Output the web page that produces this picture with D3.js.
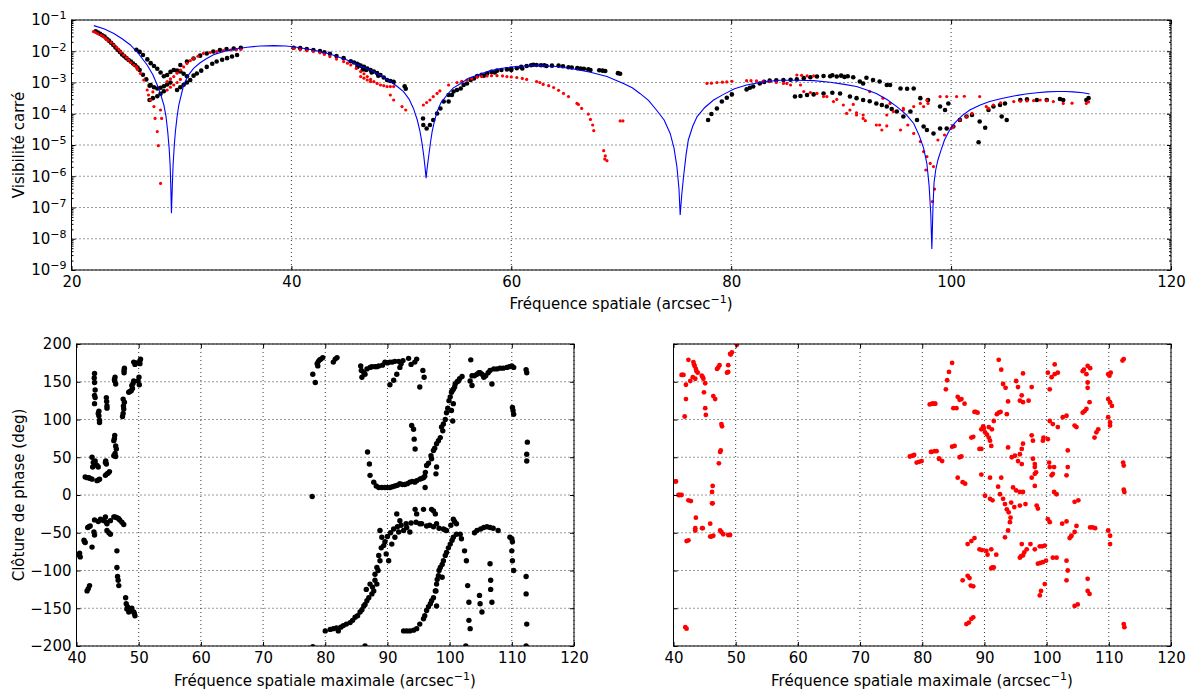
<!DOCTYPE html>
<html><head><meta charset="utf-8">
<script src="https://cdn.jsdelivr.net/npm/d3@7"></script>
<style>body{margin:0;background:#fff;} svg text{font-family:"DejaVu Sans",sans-serif;}</style>
</head><body><svg id="c" width="1195" height="691"></svg>
<script>
// ---------- tick values ----------
const topXTicks = [20, 40, 60, 80, 100, 120];
const topYTicks = [1e-9, 1e-8, 1e-7, 1e-6, 1e-5, 1e-4, 1e-3, 1e-2, 1e-1];
const phaseXTicks = [40, 50, 60, 70, 80, 90, 100, 110, 120];
const phaseYTicks = [-200, -150, -100, -50, 0, 50, 100, 150, 200];

// ---------- top panel data: [spatial frequency, log10(V²)] ----------
const v2Black = [
[22.2,-1.36],[22.6,-1.44],[23.0,-1.53],[23.4,-1.66],[23.8,-1.8],[24.2,-1.95],[24.6,-2.1],[25.0,-2.22],[25.4,-2.33],[25.8,-2.45],[26.2,-2.6],[26.5,-2.75],[26.8,-2.9],[27.1,-3.1],
[22.4,-1.40],[22.8,-1.49],[23.2,-1.6],[23.6,-1.73],[24.0,-1.88],[24.4,-2.02],[24.8,-2.16],[25.2,-2.28],[25.6,-2.39],[26.0,-2.52],
[25.9,-1.95],[26.2,-2.02],[26.5,-2.12],[26.9,-2.26],[27.2,-2.38],[27.5,-2.47],[27.8,-2.56],[28.1,-2.68],[28.4,-2.8],
[27.2,-3.08],[27.5,-3.15],[27.8,-3.19],[28.1,-3.17],[28.4,-3.12],[28.7,-3.06],[29.0,-3.0],
[27.1,-3.56],[27.4,-3.5],[27.8,-3.44],[28.1,-3.36],[28.4,-3.28],
[29.6,-3.24],[29.9,-3.15],[30.2,-3.07],[30.5,-3.0],[30.8,-2.92],
[28.7,-2.76],[29.0,-2.66],[29.3,-2.6],[29.6,-2.62],[29.9,-2.65],[30.2,-2.72],[30.5,-2.8],
[31.1,-2.78],[31.4,-2.71],[31.8,-2.62],[32.3,-2.5],[32.8,-2.4],[33.2,-2.33],[33.7,-2.27],[34.15,-2.22],[34.6,-2.17],[35.06,-2.12],
[29.9,-2.44],[30.5,-2.33],[31.1,-2.23],[31.7,-2.14],[32.3,-2.07],[32.9,-2.01],[33.5,-1.96],[34.1,-1.93],[34.75,-1.91],[35.4,-1.89],
[40.2,-1.89],[40.8,-1.9],[41.4,-1.93],[42.0,-1.96],[42.6,-1.99],[43.0,-2.03],[43.5,-2.08],[44.1,-2.15],[44.75,-2.22],[45.4,-2.32],[45.97,-2.4],[46.3,-2.46],[46.6,-2.5],[46.9,-2.55],[47.2,-2.6],[47.5,-2.65],[47.8,-2.7],[48.1,-2.76],[48.4,-2.84],[48.7,-2.92],[49.0,-2.95],[49.3,-2.98],[50.3,-3.12],[50.4,-3.2],[46.0,-2.5],[46.5,-2.58],
[45.7,-2.36],[46.1,-2.43],[46.8,-2.6],[47.3,-2.68],[47.9,-2.78],
[51.97,-4.15],[52.0,-4.36],[52.3,-4.47],[52.6,-4.36],[52.9,-4.2],[53.25,-3.99],[53.55,-3.83],[53.85,-3.61],[54.3,-3.4],[54.75,-3.29],[55.4,-3.19],[55.97,-3.03],[56.6,-2.87],
[54.3,-3.61],[54.6,-3.4],[55.06,-3.24],[55.66,-3.08],[56.3,-2.92],[56.9,-2.79],[57.3,-2.75],[57.8,-2.71],[58.2,-2.66],[58.7,-2.62],[59.1,-2.6],[59.6,-2.58],[60.0,-2.56],[60.5,-2.54],[60.9,-2.5],[61.4,-2.47],[61.8,-2.45],[62.3,-2.44],[62.7,-2.45],[63.2,-2.47],[63.7,-2.46],[64.3,-2.46],[64.7,-2.48],[65.2,-2.51],[66.0,-2.54],[66.3,-2.55],[67.0,-2.58],[67.2,-2.6],[68.3,-2.62],[68.55,-2.63],[69.7,-2.7],[69.9,-2.72],
[57.5,-2.78],[58.5,-2.68],[60.0,-2.6],[61.0,-2.55],[62.0,-2.43],[63.0,-2.45],[65.5,-2.52],[66.6,-2.56],[68.0,-2.61],
[77.9,-4.2],[78.2,-4.01],[78.7,-3.83],[79.15,-3.61],[79.6,-3.49],[80.06,-3.38],
[81.4,-3.22],[81.7,-3.17],[82.0,-3.13],[82.6,-3.03],[83.0,-2.98],[83.5,-2.94],[84.1,-2.93],[84.75,-2.92],[85.4,-2.91],[85.97,-2.9],[86.6,-2.86],[87.2,-2.83],[87.8,-2.81],[88.4,-2.79],[89.0,-2.8],[89.6,-2.81],[90.3,-2.82],[91.1,-2.83],[91.7,-2.97],[92.0,-3.03],[92.9,-2.92],[93.5,-2.97],[94.15,-3.08],[94.45,-3.08],[95.4,-3.19],[96.0,-3.2],[96.6,-3.19],[97.2,-3.5],[97.9,-3.56],
[89.2,-2.77],[90.0,-2.78],[90.6,-2.8],[92.3,-2.85],
[85.8,-3.45],[86.3,-3.43],[86.9,-3.4],[87.5,-3.38],[88.4,-3.35],[89.2,-3.33],[89.9,-3.35],[90.8,-3.45],[91.4,-3.5],[92.0,-3.56],[92.6,-3.6],[93.2,-3.67],[93.7,-3.72],[94.15,-3.77],[94.6,-3.85],[95.06,-3.93],[95.66,-4.09],[96.3,-3.93],[96.9,-4.2],[97.5,-4.41],[97.8,-4.52],
[98.4,-4.63],[99.0,-4.47],[99.6,-4.47],[100.2,-4.41],[100.8,-4.2],[101.4,-4.09],[101.9,-4.04],[99.0,-3.77],[99.45,-3.88],[99.75,-3.67],
[102.6,-4.25],[103.1,-4.45],[102.5,-4.91],[103.4,-3.88],[103.85,-3.77],[104.45,-3.72],[104.9,-3.67],[104.6,-4.09],[105.06,-4.2],[106.3,-3.56],[106.9,-3.54],[107.8,-3.56],[108.7,-3.56],[109.9,-3.53],[110.2,-3.56],[112.3,-3.56],[112.5,-3.5]
];
const v2Red = [
[22.0,-1.37],[22.4,-1.44],[22.9,-1.53],[23.3,-1.65],[23.85,-1.8],[24.3,-1.95],[24.75,-2.12],[25.2,-2.28],[25.67,-2.44],[26.0,-2.58],[26.27,-2.71],[26.57,-2.92],[26.88,-3.24],[27.2,-3.56],[27.5,-3.77],[27.6,-4.15],[27.8,-4.57],[27.9,-5.02],[28.1,-6.23],[28.1,-3.88],[28.2,-4.15],[27.4,-3.3],[27.0,-3.4],
[22.2,-1.4],[22.7,-1.48],[23.1,-1.59],[23.6,-1.72],[24.1,-1.88],[24.5,-2.03],[25.0,-2.2],[25.4,-2.36],[25.9,-2.5],
[28.7,-2.97],[29.0,-2.88],[29.3,-2.81],[29.6,-2.7],[29.9,-2.6],[30.2,-2.5],[30.5,-2.39],[30.8,-2.3],[31.1,-2.23],[31.5,-2.16],[32.0,-2.07],[32.6,-2.04],[33.2,-2.01],[33.8,-1.98],[34.45,-1.96],[35.0,-1.95],[35.4,-1.94],
[28.7,-3.24],[29.0,-3.15],[29.3,-3.08],[29.6,-3.0],[29.9,-2.9],
[40.2,-1.91],[40.8,-1.95],[41.4,-1.98],[42.0,-2.01],[42.6,-2.05],[43.0,-2.1],[43.5,-2.17],[44.1,-2.25],[44.75,-2.33],[45.1,-2.38],[45.4,-2.44],[45.9,-2.55],[46.3,-2.65],[46.6,-2.72],[46.9,-2.81],[47.2,-2.9],[47.5,-2.97],[47.8,-3.03],[48.1,-3.08],[48.4,-3.1],[48.7,-3.13],[49.0,-3.13],[49.3,-3.13],[49.0,-3.4],[49.3,-3.56],[50.06,-3.77],[50.4,-3.88],[46.3,-2.81],[46.6,-2.86],[46.9,-2.92],[47.2,-2.97],
[52.0,-3.72],[52.3,-3.64],[52.6,-3.56],[52.9,-3.45],[53.25,-3.35],[53.5,-3.27],[54.3,-3.08],[55.06,-3.0],[55.5,-2.96],[55.97,-2.92],[56.4,-2.87],[56.9,-2.83],[57.3,-2.81],[57.8,-2.79],[58.2,-2.78],[58.7,-2.78],[59.2,-2.79],[59.6,-2.81],[60.0,-2.82],[60.5,-2.84],[61.0,-2.87],[61.4,-2.9],[62.3,-2.97],[62.6,-3.0],[62.9,-3.06],[63.4,-3.1],[63.85,-3.16],[64.3,-3.25],[64.75,-3.35],[65.2,-3.45],[65.97,-3.67],[66.1,-3.7],[66.4,-3.83],[67.0,-4.01],[67.2,-4.18],[67.4,-4.36],[67.5,-4.54],[68.4,-5.18],[68.55,-5.35],[68.7,-5.5],[68.5,-5.45],[69.9,-4.23],[70.15,-4.23],
[77.8,-3.03],[78.2,-3.02],[78.7,-3.0],[79.2,-2.99],[79.6,-2.98],[80.06,-2.96],[81.4,-2.94],[81.8,-2.94],[82.3,-2.95],[82.9,-2.96],[83.5,-2.97],[84.1,-3.0],[84.75,-3.03],[85.06,-3.03],[85.97,-2.76],[86.4,-2.77],[86.9,-2.79],[87.5,-2.79],[85.4,-3.08],[86.3,-3.08],[86.6,-3.29],[87.2,-3.32],[87.8,-3.35],[88.4,-3.45],[88.7,-3.45],[89.3,-3.61],[89.6,-3.54],[90.2,-3.72],[90.5,-3.99],[90.8,-3.88],[91.1,-3.7],[91.4,-3.97],[91.4,-4.04],[92.0,-4.04],[92.2,-4.22],[92.0,-4.15],[92.6,-3.29],[93.2,-4.36],[93.5,-4.36],[93.7,-4.52],[93.8,-3.5],[94.15,-4.39],[94.15,-4.04],[94.45,-3.67],[94.75,-3.93],[95.4,-4.52],[95.66,-3.83],[95.66,-3.88],[96.06,-4.36],[96.6,-3.77],[97.2,-3.67],[97.5,-3.77],[97.8,-3.56],[97.9,-3.67],
[99.0,-3.45],[99.6,-3.45],[100.5,-3.45],[101.2,-3.44],[102.6,-3.45],[103.2,-3.77],[103.85,-3.72],[104.5,-3.65],[105.7,-3.61],[106.3,-3.6],[106.9,-3.59],[107.5,-3.58],[108.1,-3.56],[108.7,-3.58],[109.3,-3.61],[110.2,-3.67],[111.0,-3.66],[112.3,-3.67],[112.5,-3.62],
[96.6,-4.63],[97.2,-4.89],[97.5,-5.21],[97.8,-5.37],[97.7,-5.8],[98.1,-5.59],[98.4,-5.69],[98.3,-6.81],[98.5,-6.41],[98.8,-4.84],[99.4,-4.68],[100.0,-4.47],[100.2,-4.41],[100.8,-4.2],[101.4,-4.09],[101.9,-3.99],[103.4,-3.83]
];
// model curve: [spatial frequency, log10(V²)]
const v2Model = [
[22.03,-1.18],[23.0,-1.29],[23.85,-1.43],[24.6,-1.6],[25.36,-1.8],[26.1,-2.08],[26.88,-2.44],[27.4,-2.75],[27.8,-3.08],[28.1,-3.37],[28.4,-3.72],[28.6,-4.1],[28.75,-4.57],[28.88,-5.1],[28.97,-5.64],[29.03,-6.3],[29.09,-7.18],[29.17,-6.3],[29.24,-5.64],[29.35,-5.0],[29.45,-4.57],[29.6,-4.1],[29.76,-3.72],[30.2,-3.08],[30.6,-2.78],[31.1,-2.55],[31.7,-2.37],[32.3,-2.23],[33.0,-2.1],[33.85,-2.01],[34.9,-1.93],[35.97,-1.87],[37.2,-1.83],[38.4,-1.82],[39.5,-1.83],[40.5,-1.87],[42.0,-1.96],[43.5,-2.09],[45.06,-2.28],[46.2,-2.46],[47.2,-2.6],[48.1,-2.77],[49.0,-2.97],[49.6,-3.12],[50.2,-3.29],[50.7,-3.53],[51.1,-3.83],[51.45,-4.2],[51.7,-4.57],[51.88,-4.95],[52.03,-5.32],[52.15,-5.7],[52.25,-6.06],[52.36,-5.7],[52.5,-5.32],[52.65,-4.92],[52.8,-4.57],[53.0,-4.25],[53.25,-3.93],[53.6,-3.65],[54.15,-3.4],[54.7,-3.18],[55.4,-3.03],[56.1,-2.86],[56.9,-2.77],[58.1,-2.62],[59.6,-2.52],[61.1,-2.47],[62.6,-2.46],[64.15,-2.49],[65.66,-2.57],[67.2,-2.67],[68.7,-2.81],[70.2,-3.03],[71.0,-3.17],[71.7,-3.35],[72.5,-3.58],[73.2,-3.88],[73.9,-4.2],[74.45,-4.63],[74.8,-5.1],[75.06,-5.69],[75.25,-6.4],[75.36,-7.24],[75.5,-6.6],[75.67,-6.0],[75.9,-5.3],[76.1,-4.84],[76.5,-4.4],[76.9,-4.09],[77.6,-3.8],[78.4,-3.56],[79.3,-3.38],[80.3,-3.2],[81.4,-3.08],[82.9,-2.98],[84.45,-2.93],[86.0,-2.93],[87.5,-2.94],[89.0,-2.99],[90.3,-3.06],[91.4,-3.13],[92.4,-3.25],[93.2,-3.35],[94.2,-3.55],[95.06,-3.77],[95.9,-4.02],[96.6,-4.31],[97.1,-4.7],[97.5,-5.1],[97.8,-5.6],[98.0,-6.3],[98.15,-7.2],[98.25,-8.33],[98.35,-7.0],[98.45,-6.2],[98.6,-5.8],[98.8,-5.48],[99.1,-5.15],[99.4,-4.84],[99.8,-4.56],[100.3,-4.31],[101.0,-4.06],[101.7,-3.88],[102.6,-3.73],[103.5,-3.61],[104.6,-3.51],[105.7,-3.43],[106.8,-3.37],[107.8,-3.33],[108.7,-3.3],[109.6,-3.29],[110.4,-3.29],[111.1,-3.3],[112.0,-3.33],[112.6,-3.37]
];

// ---------- bottom panels: [max spatial frequency, closure phase (deg)] ----------
const phaseBlack = [
[42.9,161],[42.9,149],[42.9,132],[43.0,129],[42.9,121],[42.85,155],[43.0,139],[43.6,111],[43.6,105],[43.7,99],[43.7,96],[43.5,108],
[44.8,129],[44.85,124],[44.9,118],[44.9,115],[46.15,151],[46.2,156],[46.3,147],[46.1,153],
[47.4,104],[47.5,108],[47.6,114],[47.5,127],[47.7,123],[47.65,165],[47.65,162],[47.7,168],[47.55,118],
[48.4,136],[48.8,138],[48.9,145],[49.2,151],[49.1,148],[49.2,176],[49.4,173],[49.9,151],[50.05,156],[50.2,178],[50.3,180],[50.1,146],[48.6,137],[49.0,141],[49.6,175],[50.2,174],
[46.0,72],[46.15,79],[46.3,65],[46.4,61],[46.0,52],[46.3,51],[46.2,55],[46.1,75],
[42.5,50],[42.7,43],[43.0,41],[43.3,39],[43.5,37],[44.65,43],[44.8,41],[43.3,19],[43.7,21],[41.4,24],[41.98,23],[42.5,21],[44.65,26],[44.9,28],[45.3,31],[42.6,37],[43.0,45],[41.7,23],[42.2,22],[44.7,45],[45.1,29],[43.5,20],
[43.85,-32],[44.4,-34],[44.9,-38],[45.45,-34],[44.65,-29],[46.0,-29],[46.5,-30],[46.95,-33],[47.3,-36],[47.6,-39],[43.5,-35],[42.9,-33],[44.1,-33],[46.2,-29],[46.75,-31],
[44.8,-36],[44.9,-47],[45.2,-50],[45.45,-52],[42.8,-49],[42.9,-53],[42.2,-41],[41.8,-43],[41.2,-60],[41.4,-63],[40.5,-77],[40.6,-82],[40.2,-79],[41.3,-62],[42.0,-42],
[42.5,-69],[46.5,-74],[46.5,-96],[46.6,-108],[46.7,-113],[46.8,-120],[41.9,-124],[42.1,-120],[41.7,-127],
[47.9,-136],[48.0,-144],[48.1,-151],[48.4,-155],[48.7,-153],[48.9,-150],[49.2,-155],[49.4,-160],[48.2,-148],[49.3,-157],
[78.0,160],[78.4,149],[78.7,174],[78.9,177],[79.3,180],[79.6,182],[81.3,176],[81.6,180],[81.9,182],[78.8,171],[79.1,179],
[85.7,171],[85.9,156],[86.4,160],[86.7,167],[87.2,169],[88.0,170],[88.6,171],[85.8,165],[86.2,162],[87.5,170],[88.3,170],
[89.6,176],[90.4,176],[91.2,177],[90.4,146],[91.0,152],[91.5,160],[92.0,169],[92.5,178],[93.4,181],[93.8,173],[94.7,180],[94.4,176],[95.2,143],[95.7,165],[95.9,156],[89.2,172],[90.0,175],[90.8,176],[91.8,177],[92.2,174],
[93.9,92],[94.2,87],[94.3,74],[94.45,61],
[86.8,57],[87.1,41],[87.2,26],[87.8,17],[88.6,10],[89.6,10],[90.4,10],[91.2,12],[92.0,15],[92.8,14],[93.6,17],[94.7,19],[95.2,21],[95.8,23],[96.06,10],[96.3,39],[97.1,48],[97.4,59],[97.9,68],[98.5,76],[98.7,90],[99.0,94],[99.5,109],[99.9,125],[100.3,136],[100.6,140],[100.9,147],[101.4,151],[100.3,112],[100.5,98],[100.6,121],[97.9,37],[97.8,28],
[88.2,12],[89.1,10],[90.0,10],[90.8,11],[91.6,13],[92.4,14],[93.2,15],[94.0,18],[94.4,17],[95.5,22],[96.0,25],[96.1,30],
[96.6,42],[97.0,52],[97.6,62],[98.2,72],[98.9,85],[99.3,100],[99.7,115],[100.1,130],[100.4,138],[100.8,143],[101.2,150],[101.6,154],[102.0,157],
[103.3,151],[103.6,158],[103.6,145],[104.4,160],[104.9,162],[105.5,156],[106.2,162],[106.8,147],[107.1,167],[108.1,168],[109.2,169],[110.0,171],[110.3,169],[103.4,179],[110.1,116],[110.3,107],[112.3,166],[112.4,162],[112.5,70],[112.4,54],[112.4,45],
[104.0,158],[104.7,162],[105.2,160],[105.8,158],[106.5,165],[107.6,167],[108.6,168],[109.6,170],[110.2,112],
[77.9,-2],
[91.5,-25],[92.0,-34],[93.1,-43],[93.6,-49],[94.45,-19],[94.7,-25],[95.2,-38],[96.3,-41],[97.4,-21],[97.7,-25],[97.9,-38],[99.0,-45],[99.5,-47],[100.6,-32],[101.1,-38],[101.7,-52],[101.9,-58],[102.4,-74],[102.7,-87],
[104.4,-47],[105.5,-43],[106.5,-43],[107.8,-47],[109.7,-56],[110.0,-74],[110.1,-87],[110.3,-100],[106.5,-91],[106.6,-113],[106.6,-125],[106.8,-142],[104.8,-133],[104.9,-144],[105.2,-155],[102.9,-120],[103.1,-142],[103.1,-166],[103.3,-177],[112.3,-108],[112.3,-131],[112.4,-171],
[104.0,-50],[105.0,-45],[106.0,-42],[107.0,-44],[110.0,-58],[110.1,-62],
[88.8,-47],[89.1,-56],[89.4,-67],[89.8,-78],[90.2,-87],[88.3,-96],[88.0,-113],[87.8,-127],[87.5,-131],[86.7,-140],[86.2,-147],[85.6,-155],[84.8,-162],[84.0,-169],[82.9,-173],[82.1,-180],[81.3,-177],[80.0,-180],[86.6,-125],[87.2,-118],[88.3,-118],[88.8,-87],
[80.8,-178],[81.8,-176],[82.5,-175],[83.4,-171],[84.4,-166],[85.2,-160],[85.9,-152],[86.4,-145],[87.0,-136],[87.6,-122],[88.0,-105],[88.5,-100],[88.6,-80],[89.0,-70],[89.6,-62],[90.0,-55],[90.5,-50],[91.0,-45],[91.6,-42],[92.2,-40],[93.0,-38],[93.8,-37],[94.6,-36],[95.5,-38],[96.8,-40],[97.4,-42],[98.3,-44],[99.2,-46],[100.2,-40],[100.8,-35],
[90.7,-65],[91.2,-56],[91.8,-49],[92.6,-47],
[92.6,-180],[93.6,-180],[94.7,-177],[95.2,-171],[95.8,-164],[96.3,-153],[96.9,-144],[97.4,-136],[97.7,-127],[97.9,-118],[98.2,-107],[98.5,-96],[99.0,-87],[99.5,-76],[100.1,-65],[100.6,-56],[101.1,-52],[98.8,-109],[97.9,-147],[97.8,-127],
[93.1,-180],[94.2,-179],[96.0,-160],[96.6,-148],[97.1,-140],[98.0,-112],[98.3,-100],[98.8,-92],[99.3,-80],[99.8,-70],[100.4,-60],
[78.0,-201],[86.4,-200],[102.6,-200],[112.3,-200],[97.1,-19],[95.8,-19]
];
const phaseRed = [
[42.4,179],[43.2,176],[43.4,171],[43.6,167],[43.9,162],[41.3,159],[41.6,159],[42.0,146],[42.0,127],[41.8,104],[42.7,151],[43.1,156],[43.5,154],[44.55,158],[44.8,154],[45.1,148],[44.9,136],[45.1,115],[45.2,106],[46.4,131],[46.7,127],[47.0,167],[47.4,172],[48.6,162],[48.8,172],[49.1,187],[49.4,189],[50.2,199],
[43.7,164],[43.3,173],[44.7,156],[47.2,169],[48.8,163],[49.2,186],[41.45,159],
[47.7,94],[47.8,91],[47.5,57],[47.6,59],[47.3,42],
[40.3,18],[40.8,0],[41.3,0],[42.4,-7],[42.8,-8],[46.3,12],[46.2,4],[46.2,-11],[46.3,-11],[43.6,-30],[43.5,-47],[44.7,-44],[45.9,-38],[45.9,-55],[46.4,-54],[47.5,-47],[48.0,-52],[49.1,-53],[42.1,-61],[42.4,-60],[41.9,-175],[42.1,-177],
[40.4,18],[41.0,0],[44.6,-44],[46.1,-55],[47.7,-49],[48.8,-53],[43.5,-44],
[78.0,51],[78.7,53],[79.1,43],[79.9,45],[81.2,120],[82.0,121],[81.5,57],[82.3,58],[82.7,48],[78.4,52],[79.5,44],[81.6,121],
[84.8,175],[84.3,163],[84.0,152],[83.8,140],[85.7,130],[86.3,127],[86.8,121],[81.7,121],[82.1,121],[85.0,115],[85.5,115],[88.4,110],[88.9,109],[87.9,76],[88.2,77],[84.8,64],[85.2,65],[81.4,57],[82.0,58],[82.7,48],[83.2,45],[86.0,50],[86.3,51],[85.7,23],[86.5,17],[86.9,15],[89.2,61],[89.5,61],[89.5,87],[89.8,91],[90.1,83],[90.7,76],[90.9,72],[90.7,90],[91.2,87],[91.5,98],[92.0,107],[92.6,110],[93.6,107],[91.1,65],[92.3,179],[92.7,166],[93.0,147],[93.4,142],[93.8,124],[89.5,27],[90.9,23],[90.1,-1],[90.9,-5],[91.3,-7],[92.7,23],[92.2,11],[92.5,1],[93.0,-5],[93.3,-12],[93.6,-19],[93.9,-23],[94.2,-30],[94.1,-36],[93.8,-47],[93.3,-56],[87.3,-65],[87.9,-61],[88.4,-57],[89.2,-72],[90.3,-74],[91.1,-72],[90.5,-79],[91.9,-79],[91.1,-97],[91.5,-96],[86.5,-113],[87.3,-107],[87.8,-120],[88.2,-121],[87.1,-171],[87.9,-164],[88.2,-162],
[86.0,126],[88.6,110],[89.9,88],[90.4,80],[92.3,109],[87.5,-169],[87.6,-110],[89.6,-73],[91.3,-96],
[93.8,63],[94.4,50],[94.9,52],[95.4,45],[96.0,41],[94.6,10],[95.1,6],[95.7,4],[96.2,4],[94.3,-10],[94.8,-16],[95.7,-14],[96.6,-12],[95.1,151],[95.4,143],[95.7,125],[96.0,132],[96.2,123],[97.6,143],[96.2,161],[97.1,125],[95.7,54],[96.0,61],[96.2,68],[97.6,79],[97.8,72],[98.1,37],[98.3,30],[98.1,12],[97.6,23],[97.8,48],[98.1,41],[98.1,28],[98.4,-14],[98.6,-18],
[96.0,-65],[96.8,-72],[97.4,-65],[98.1,-72],[98.9,-68],[99.7,-67],[95.7,-83],[96.2,-80],[98.6,-91],[99.4,-89],[99.9,-87],[98.9,-133],[99.1,-127],[99.7,-118],[101.0,-83],[101.6,-83],[103.2,-87],[103.4,-100],[103.2,-113],[104.5,-147],[105.0,-145],[106.6,-111],[106.6,-127],[106.9,-131],
[96.4,-76],[99.3,-68],[99.0,-90],[95.9,-81],
[99.4,72],[99.5,76],[100.2,74],[100.4,43],[100.5,37],[100.8,26],[101.0,28],[101.2,37],[100.2,162],[100.8,156],[101.3,173],[101.8,162],[101.3,160],[100.5,140],[100.5,98],[101.0,94],[101.8,90],[102.6,103],[103.2,105],[103.4,59],[103.4,37],[103.2,26],[101.2,4],[101.6,1],[100.2,-32],[100.5,-36],[102.5,-38],[103.2,-35],[103.7,-57],[104.0,-54],[104.5,-49],[104.8,-41],[104.5,-9],[105.1,-7],[107.0,-43],[107.8,-44],
[104.8,90],[104.5,92],[105.8,109],[106.4,114],[106.9,123],[107.7,76],[108.0,83],[108.3,87],[105.8,164],[106.4,160],[106.6,149],[106.6,142],[106.6,171],[107.0,168],[109.9,160],[110.3,162],[109.9,127],[110.2,123],[110.5,118],[109.9,103],[110.2,96],[110.2,92],[109.9,-47],[110.2,-54],[110.2,-65],[112.2,178],[112.4,180],[112.3,43],[112.4,39],[112.4,7],[112.5,4],[112.4,-171],[112.5,-175],
[106.1,111],[106.0,166],[110.1,158],[103.9,-55],[107.4,-43]
];

// ---------- drawing ----------
const svg = d3.select('#c');
svg.append('rect').attr('width',1195).attr('height',691).attr('fill','#fff');
const FONT = 15;
const SUP = 11;

function styleAxis(sel){
  sel.select('.domain').remove();
  sel.selectAll('.tick line').attr('stroke','#000').attr('stroke-width',1);
  sel.selectAll('text').attr('font-size',FONT).attr('font-family','DejaVu Sans').attr('fill','#000');
}

function panel(cfg){
  const {L,R,T,B,x,y,xTicks,yTicks,yMinor,yLabels,yFormat,id} = cfg;
  const g = svg.append('g');
  g.append('g').selectAll('line').data(xTicks).join('line')
    .attr('x1',d=>x(d)).attr('x2',d=>x(d)).attr('y1',T).attr('y2',B)
    .attr('stroke','#000').attr('stroke-width',0.8).attr('stroke-dasharray','1,3');
  g.append('g').selectAll('line').data(yTicks).join('line')
    .attr('y1',d=>y(d)).attr('y2',d=>y(d)).attr('x1',L).attr('x2',R)
    .attr('stroke','#000').attr('stroke-width',0.8).attr('stroke-dasharray','1,3');
  svg.append('clipPath').attr('id',id).append('rect').attr('x',L).attr('y',T).attr('width',R-L).attr('height',B-T);
  const plot = g.append('g').attr('clip-path',`url(#${id})`);
  const ab = g.append('g').attr('transform',`translate(0,${B})`)
    .call(d3.axisBottom(x).tickValues(xTicks).tickSize(-4).tickSizeOuter(0).tickPadding(6));
  styleAxis(ab);
  const at = g.append('g').attr('transform',`translate(0,${T})`)
    .call(d3.axisTop(x).tickValues(xTicks).tickSize(-4).tickSizeOuter(0).tickFormat(''));
  styleAxis(at);
  const al = g.append('g').attr('transform',`translate(${L},0)`)
    .call(d3.axisLeft(y).tickValues(yTicks).tickSize(-4).tickSizeOuter(0).tickPadding(5)
      .tickFormat(yLabels ? (yFormat || d3.format('d')) : ''));
  styleAxis(al);
  const ar = g.append('g').attr('transform',`translate(${R},0)`)
    .call(d3.axisRight(y).tickValues(yTicks).tickSize(-4).tickSizeOuter(0).tickFormat(''));
  styleAxis(ar);
  if (yMinor){
    const ml = g.append('g').attr('transform',`translate(${L},0)`)
      .call(d3.axisLeft(y).tickValues(yMinor).tickSize(-2).tickSizeOuter(0).tickFormat(''));
    styleAxis(ml);
    const mr = g.append('g').attr('transform',`translate(${R},0)`)
      .call(d3.axisRight(y).tickValues(yMinor).tickSize(-2).tickSizeOuter(0).tickFormat(''));
    styleAxis(mr);
  }
  g.append('rect').attr('x',L).attr('y',T).attr('width',R-L).attr('height',B-T)
    .attr('fill','none').attr('stroke','#000').attr('stroke-width',1);
  return {g, plot, al};
}

function xLabel(cx, yb, main){
  const t = svg.append('text').attr('x',cx).attr('y',yb).attr('text-anchor','middle')
    .attr('font-size',FONT).attr('fill','#000');
  t.append('tspan').text(main + ' (arcsec');
  t.append('tspan').attr('dy',-6).attr('font-size',SUP).text('\u22121');
  t.append('tspan').attr('dy',6).text(')');
}
function yLabel(xb, cy, txt){
  svg.append('text').attr('transform',`translate(${xb},${cy}) rotate(-90)`)
    .attr('text-anchor','middle').attr('font-size',FONT).attr('fill','#000').text(txt);
}

// ----- top panel -----
const xTop = d3.scaleLinear().domain([20,120]).range([71.5,1171]);
const yTop = d3.scaleLog().domain([1e-9,1e-1]).range([270,20]);
const minorTop = [];
topYTicks.slice(0,-1).forEach(dec => { for (let m=2;m<=9;m++) minorTop.push(dec*m); });
const topPanel = panel({L:71.5,R:1171,T:20,B:270,x:xTop,y:yTop,xTicks:topXTicks,yTicks:topYTicks,yMinor:minorTop,yLabels:true,id:'clipTop'});
topPanel.al.selectAll('.tick text').each(function(d){
  const t = d3.select(this); t.text(null);
  t.append('tspan').text('10');
  t.append('tspan').attr('dy',-6).attr('font-size',SUP).text('\u2212' + Math.round(-Math.log10(d)));
});
const toV = d => [d[0], Math.pow(10, d[1])];
topPanel.plot.append('g').selectAll('circle').data(v2Black.map(toV)).join('circle')
  .attr('cx',d=>xTop(d[0])).attr('cy',d=>yTop(d[1])).attr('r',2.3).attr('fill','#000');
topPanel.plot.append('g').selectAll('circle').data(v2Red.map(toV)).join('circle')
  .attr('cx',d=>xTop(d[0])).attr('cy',d=>yTop(d[1])).attr('r',1.6).attr('fill','#ff0000');
topPanel.plot.append('path').datum(v2Model.map(toV))
  .attr('d', d3.line().x(d=>xTop(d[0])).y(d=>yTop(d[1])))
  .attr('fill','none').attr('stroke','#0000ff').attr('stroke-width',1.1);
xLabel(621, 309, 'Fréquence spatiale');
yLabel(24, 145, 'Visibilité carré');

// ----- bottom-left panel -----
const xBL = d3.scaleLinear().domain([40,120]).range([76.5,574]);
const yPh = d3.scaleLinear().domain([-200,200]).range([646,344]);
const blPanel = panel({L:76.5,R:574,T:344,B:646,x:xBL,y:yPh,xTicks:phaseXTicks,yTicks:phaseYTicks,yLabels:true,yFormat:d3.format('d'),id:'clipBL'});
blPanel.plot.append('g').selectAll('circle').data(phaseBlack).join('circle')
  .attr('cx',d=>xBL(d[0])).attr('cy',d=>yPh(d[1])).attr('r',2.7).attr('fill','#000');
xLabel(325, 686, 'Fréquence spatiale maximale');
yLabel(24, 495, 'Clôture de phase (deg)');

// ----- bottom-right panel -----
const xBR = d3.scaleLinear().domain([40,120]).range([673.5,1171]);
const brPanel = panel({L:673.5,R:1171,T:344,B:646,x:xBR,y:yPh,xTicks:phaseXTicks,yTicks:phaseYTicks,yLabels:false,id:'clipBR'});
brPanel.plot.append('g').selectAll('circle').data(phaseRed).join('circle')
  .attr('cx',d=>xBR(d[0])).attr('cy',d=>yPh(d[1])).attr('r',2.4).attr('fill','#ff0000');
xLabel(922, 686, 'Fréquence spatiale maximale');
</script></body></html>
